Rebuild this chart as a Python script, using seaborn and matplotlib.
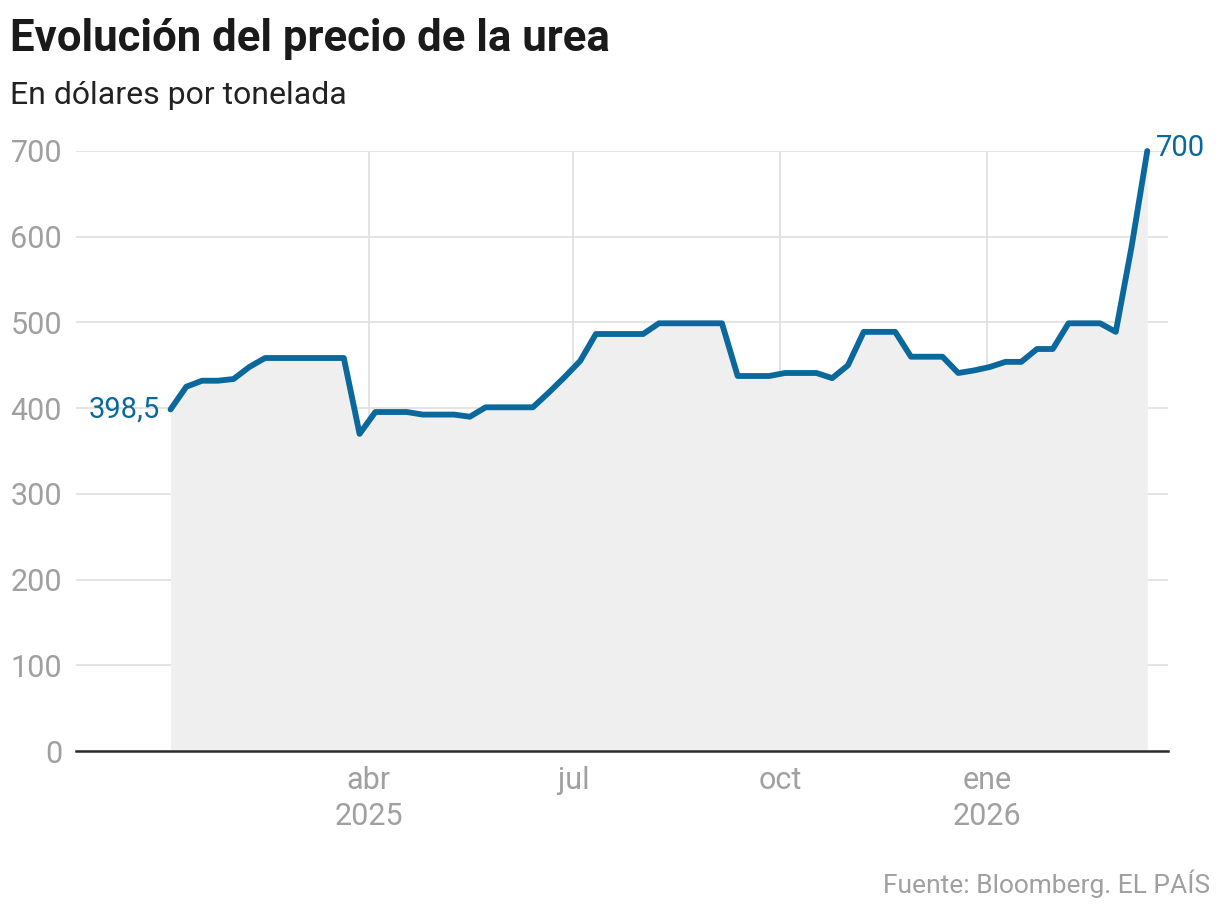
import matplotlib
matplotlib.use("Agg")
import matplotlib.pyplot as plt
from matplotlib import font_manager
import seaborn as sns
import pandas as pd

# weekly urea price, USD per tonne
start_date = "2025-01-03"
prices = [398.5, 425, 432, 432, 434, 448, 458.5, 458.5, 458.5, 458.5,
          458.5, 458.5, 370, 395.5, 395.5, 395.5, 392.5, 392.5, 392.5, 390,
          401, 401, 401, 401, 418, 436, 455, 486.5, 486.5, 486.5,
          486.5, 499, 499, 499, 499, 499, 437.5, 437.5, 437.5, 441,
          441, 441, 435, 450, 489, 489, 489, 460, 460, 460,
          441, 444, 448, 454, 454, 469, 469, 499, 499, 499,
          489, 588, 700]
tick_dates = ["2025-04-01", "2025-07-01", "2025-10-01", "2026-01-01"]
tick_labels = ["abr\n2025", "jul", "oct", "ene\n2026"]
y_ticks = [0, 100, 200, 300, 400, 500, 600, 700]

df = pd.DataFrame({
    "fecha": pd.date_range(start_date, periods=len(prices), freq="7D"),
    "precio": prices,
})

sns.set_style("white")
installed = {f.name for f in font_manager.fontManager.ttflist}
base_font = "Roboto" if "Roboto" in installed else "DejaVu Sans"
plt.rcParams["font.family"] = [base_font, "DejaVu Sans"]

blue = "#0a689c"
grey_txt = "#a0a0a0"

fig = plt.figure(figsize=(12.2, 9.14), dpi=100)
ax = fig.add_axes([0.0623, 0.1783, 0.8947, 0.6565])

ax.fill_between(df["fecha"], df["precio"], 0, color="#efefef", lw=0, zorder=1)
sns.lineplot(data=df, x="fecha", y="precio", ax=ax, color=blue, lw=4.2,
             zorder=3, clip_on=False)

ax.set_ylim(0, 700)
ax.set_xlim(pd.Timestamp("2024-11-22"), pd.Timestamp("2026-03-22"))
ax.set_yticks(y_ticks)
ax.set_xticks(pd.to_datetime(tick_dates))
ax.set_xticklabels(tick_labels, linespacing=1.3)
ax.set_xlabel("")
ax.set_ylabel("")

ax.grid(True, color="#e2e2e2", lw=1.3, zorder=0)
ax.set_axisbelow(True)
for s in ["top", "right", "left"]:
    ax.spines[s].set_visible(False)
ax.spines["bottom"].set_color("#2b2b2b")
ax.spines["bottom"].set_linewidth(1.8)
ax.spines["bottom"].set_zorder(4)
ax.tick_params(axis="both", length=0, labelsize=22, labelcolor=grey_txt)
ax.tick_params(axis="y", pad=10)
ax.tick_params(axis="x", pad=11)

# end labels
first, last = df.iloc[0], df.iloc[-1]
ax.annotate("398,5", (first["fecha"], first["precio"]), xytext=(-8, 0),
            textcoords="offset points", ha="right", va="center",
            fontsize=21, color=blue)
ax.annotate("700", (last["fecha"], last["precio"]), xytext=(6, 2),
            textcoords="offset points", ha="left", va="center",
            fontsize=21, color=blue, annotation_clip=False)

fig.text(10 / 1220, 1 - 39 / 914, "Evolución del precio de la urea",
         fontsize=31.5, fontweight="bold", color="#1a1a1a", va="center")
fig.text(10 / 1220, 1 - 95 / 914, "En dólares por tonelada",
         fontsize=23, color="#222222", va="center")
fig.text(1210 / 1220, 1 - 884 / 914, "Fuente: Bloomberg. EL PAÍS",
         fontsize=19, color=grey_txt, ha="right", va="center")

fig.savefig("out.png", dpi=100)
